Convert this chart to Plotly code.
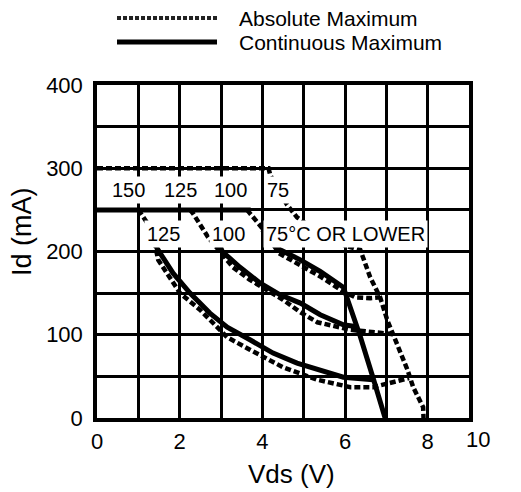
import plotly.graph_objects as go

# ---------------- data ----------------
# Absolute maximum (dotted) boundaries
abs_top_vds = [0, 4.15, 4.19, 4.6, 4.84, 5.5, 6.0, 6.37, 6.61, 6.85, 7.02, 7.26, 7.51, 7.65, 7.89, 7.9]
abs_top_id = [300, 300, 292, 256, 241, 218, 207, 202, 169, 145, 118, 90, 58, 37, 13, 0]

abs75_vds = [3.63, 4.0, 4.40, 4.92, 5.40, 5.96, 6.25, 6.61, 6.85]
abs75_id = [250, 228, 198, 184, 170, 152, 145, 144, 145]

abs100_vds = [2.25, 2.32, 2.69, 3.03, 3.29, 3.70, 4.12, 4.50, 4.92, 5.33, 6.13, 7.12]
abs100_id = [250, 246, 217, 196, 181, 166, 154, 142, 127, 115, 106, 101]

abs125_vds = [1.0, 1.15, 1.33, 1.48, 2.01, 2.49, 3.15, 3.70, 4.50, 5.33, 6.13, 6.68, 7.55]
abs125_id = [250, 240, 226, 190, 150, 130, 97, 82, 61, 46, 37, 37, 48]

# Continuous maximum (solid) boundaries
cont_top_vds = [0, 3.72]
cont_top_id = [250, 250]

cont75_vds = [4.0, 4.43, 4.92, 5.40, 5.96, 6.37, 6.68, 6.97]
cont75_id = [226, 202, 190, 176, 157, 98, 48, 0]

cont100_vds = [2.95, 3.03, 3.46, 3.95, 4.43, 4.92, 5.40, 5.96, 6.25]
cont100_id = [210, 200, 181, 162, 148, 138, 124, 112, 110]

cont125_vds = [1.38, 1.45, 1.84, 2.25, 2.73, 3.15, 3.70, 4.26, 4.84, 5.33, 5.96, 6.68]
cont125_id = [215, 204, 174, 150, 126, 109, 94, 78, 66, 58, 49, 46]

# Temperature labels
abs_label_text = ["150", "125", "100", "75"]
abs_label_vds = [0.77, 2.03, 3.22, 4.38]
abs_label_id = [274, 274, 274, 274]

cont_label_text = ["125", "100", "75°C OR LOWER"]
cont_label_vds = [1.60, 3.17, 6.0]
cont_label_id = [221, 221, 221]

# Axis ticks
x_tickvals = list(range(0, 10))
x_ticktext = ["0", "", "2", "", "4", "", "6", "", "8", ""]
x_extra_label = "10"
y_tickvals = list(range(0, 401, 50))
y_ticktext = ["0", "", "100", "", "200", "", "300", "", "400"]

legend_names = ["Absolute Maximum", "Continuous Maximum"]

# ---------------- figure ----------------
FONT = "Liberation Sans, Arial, Helvetica, sans-serif"
DOT = "6px,3px"

fig = go.Figure()

def add_abs(x, y):
    fig.add_trace(go.Scatter(x=x, y=y, mode="lines",
                             line=dict(color="black", width=4.5, dash=DOT),
                             showlegend=False, hoverinfo="skip"))

def add_cont(x, y):
    fig.add_trace(go.Scatter(x=x, y=y, mode="lines",
                             line=dict(color="black", width=5),
                             showlegend=False, hoverinfo="skip"))

add_abs(abs_top_vds, abs_top_id)
add_abs(abs75_vds, abs75_id)
add_abs(abs100_vds, abs100_id)
add_abs(abs125_vds, abs125_id)
add_cont(cont_top_vds, cont_top_id)
add_cont(cont75_vds, cont75_id)
add_cont(cont100_vds, cont100_id)
add_cont(cont125_vds, cont125_id)

annotations = []
for t, xv, yv in zip(abs_label_text, abs_label_vds, abs_label_id):
    annotations.append(dict(x=xv, y=yv, xref="x", yref="y", text=t, showarrow=False,
                            font=dict(family=FONT, size=20, color="black"),
                            bgcolor="white", borderpad=2, xanchor="center", yanchor="middle"))
for t, xv, yv in zip(cont_label_text, cont_label_vds, cont_label_id):
    annotations.append(dict(x=xv, y=yv, xref="x", yref="y", text=t, showarrow=False,
                            font=dict(family=FONT, size=20, color="black"),
                            bgcolor="white", borderpad=2, xanchor="center", yanchor="middle"))

# axis titles and extra tick label
annotations.append(dict(x=0.524, y=-0.168, xref="paper", yref="paper", text="Vds (V)",
                        showarrow=False, font=dict(family=FONT, size=26, color="black"),
                        xanchor="center", yanchor="middle"))
annotations.append(dict(x=-0.2016, y=0.5586, xref="paper", yref="paper", text="Id (mA)",
                        showarrow=False, textangle=-90,
                        font=dict(family=FONT, size=27, color="black"),
                        xanchor="center", yanchor="middle"))
annotations.append(dict(x=1.024, y=-0.066, xref="paper", yref="paper", text=x_extra_label,
                        showarrow=False, font=dict(family=FONT, size=22, color="black"),
                        xanchor="center", yanchor="middle"))

# legend (manual)
leg_y = [1.2012, 1.1291]
annotations.append(dict(x=0.377, y=leg_y[0], xref="paper", yref="paper", text=legend_names[0],
                        showarrow=False, font=dict(family=FONT, size=21, color="black"),
                        xanchor="left", yanchor="middle"))
annotations.append(dict(x=0.377, y=leg_y[1], xref="paper", yref="paper", text=legend_names[1],
                        showarrow=False, font=dict(family=FONT, size=21, color="black"),
                        xanchor="left", yanchor="middle"))
shapes = [
    dict(type="line", xref="paper", yref="paper", x0=0.0538, x1=0.3226, y0=leg_y[0], y1=leg_y[0],
         line=dict(color="#222", width=4, dash="4px,2px")),
    dict(type="line", xref="paper", yref="paper", x0=0.0538, x1=0.3226, y0=leg_y[1], y1=leg_y[1],
         line=dict(color="black", width=5)),
]

# The page body adds an 8px offset; margins compensate so the plot area lands
# where it is in the reference.
fig.update_layout(
    width=513, height=484,
    margin=dict(l=89, r=52, t=77, b=74),
    paper_bgcolor="white", plot_bgcolor="white",
    showlegend=False,
    annotations=annotations,
    shapes=shapes,
    font=dict(family=FONT, size=20, color="black"),
)
fig.update_xaxes(range=[0, 9], tickvals=x_tickvals, ticktext=x_ticktext,
                 showgrid=True, gridcolor="black", gridwidth=2.5,
                 showline=True, linecolor="black", linewidth=3.5, mirror=True,
                 zeroline=False, ticks="outside", ticklen=1, tickcolor="rgba(0,0,0,0)",
                 tickfont=dict(family=FONT, size=22, color="black"))
fig.update_yaxes(range=[0, 400], tickvals=y_tickvals, ticktext=y_ticktext,
                 showgrid=True, gridcolor="black", gridwidth=2.5,
                 showline=True, linecolor="black", linewidth=3.5, mirror=True,
                 zeroline=False, ticks="outside", ticklen=6, tickcolor="rgba(0,0,0,0)",
                 tickfont=dict(family=FONT, size=22, color="black"))

fig.write_html("out.html")
